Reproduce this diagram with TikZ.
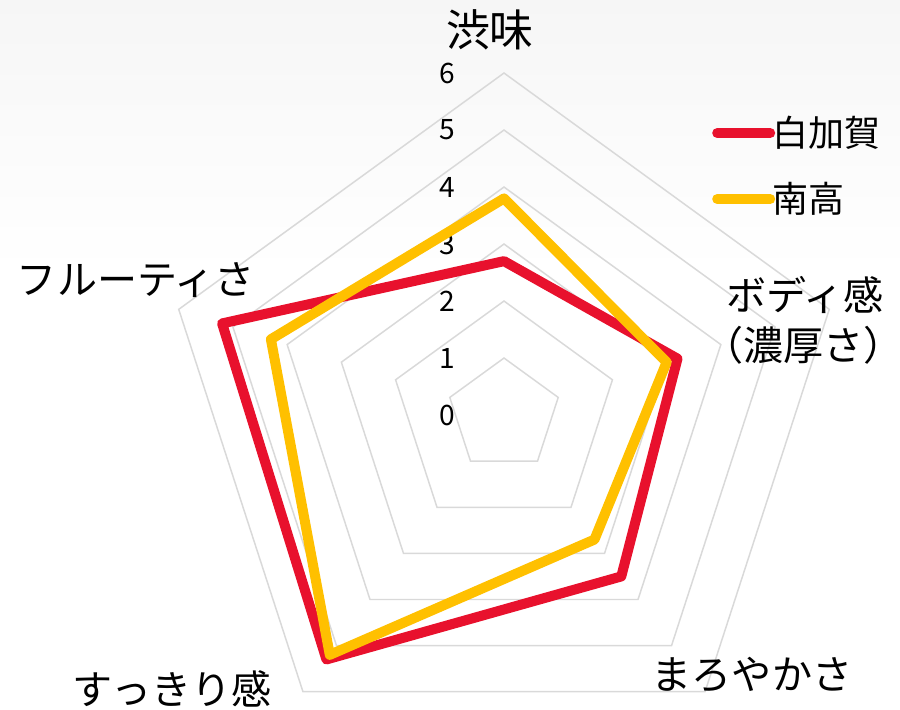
\documentclass[tikz,border=0pt]{standalone}
\usepackage{fontspec}
\setmainfont{Noto Sans CJK JP}
\usetikzlibrary{positioning}

\definecolor{kagared}{RGB}{232,17,45}
\definecolor{nankogold}{RGB}{255,192,0}
\definecolor{gridgray}{RGB}{217,217,217}

\tikzset{
    gridline/.style={draw=gridgray, line width=0.85pt},
    kagaline/.style={draw=kagared, line width=5.7pt, line join=round},
    nankoline/.style={draw=nankogold, line width=5.7pt, line join=round},
    axislabel/.style={inner sep=0pt, font=\fontsize{22.8}{28}\selectfont},
    levellabel/.style={inner sep=0pt, font=\fontsize{16}{18}\selectfont},
    legendlabel/.style={inner sep=0pt, font=\fontsize{20.5}{24}\selectfont}
}

\begin{document}
\begin{tikzpicture}[x=1.14cm, y=1.14cm]
    \useasboundingbox (-8.842, -5.158) rectangle (6.947, 7.281);
    \fill[top color=gray!7, bottom color=white] (-8.842, 2.5) rectangle (6.947, 7.281);

    \draw[gridline] (90:1) -- (18:1) -- (-54:1) -- (-126:1) -- (162:1) -- cycle;
    \draw[gridline] (90:2) -- (18:2) -- (-54:2) -- (-126:2) -- (162:2) -- cycle;
    \draw[gridline] (90:3) -- (18:3) -- (-54:3) -- (-126:3) -- (162:3) -- cycle;
    \draw[gridline] (90:4) -- (18:4) -- (-54:4) -- (-126:4) -- (162:4) -- cycle;
    \draw[gridline] (90:5) -- (18:5) -- (-54:5) -- (-126:5) -- (162:5) -- cycle;
    \draw[gridline] (90:6) -- (18:6) -- (-54:6) -- (-126:6) -- (162:6) -- cycle;

    \node[levellabel] (lv0) at (-1, 0) {0};
    \node[levellabel] (lv1) at (-1, 1) {1};
    \node[levellabel] (lv2) at (-1, 2) {2};
    \node[levellabel] (lv3) at (-1, 3) {3};
    \node[levellabel] (lv4) at (-1, 4) {4};
    \node[levellabel] (lv5) at (-1, 5) {5};
    \node[levellabel] (lv6) at (-1, 6) {6};

    \node[axislabel, font=\fontsize{25}{30}\selectfont] (shibumi) at (-0.246, 6.754) {渋味};
    \node[axislabel] (body) at (5.28, 2.105) {ボディ感};
    \node[axislabel, anchor=west] (bodysub) at (3.49, 1.228) {（濃厚さ）\kern-0.9em};
    \node[axislabel] (maroyaka) at (4.35, -4.56) {まろやかさ};
    \node[axislabel] (sukkiri) at (-5.825, -4.807) {すっきり感};
    \node[axislabel] (fruity) at (-6.456, 2.368) {フルーティさ};

    \coordinate (kaga1) at (90:2.7);
    \coordinate (kaga2) at (18:3.2);
    \coordinate (kaga3) at (-54:3.5);
    \coordinate (kaga4) at (-126:5.3);
    \coordinate (kaga5) at (162:5.2);
    \coordinate (nanko1) at (90:3.8);
    \coordinate (nanko2) at (18:3.0);
    \coordinate (nanko3) at (-54:2.7);
    \coordinate (nanko4) at (-126:5.2);
    \coordinate (nanko5) at (162:4.3);
    \draw[kagaline] (kaga1) -- (kaga2) -- (kaga3) -- (kaga4) -- (kaga5) -- cycle;
    \draw[nankoline] (nanko1) -- (nanko2) -- (nanko3) -- (nanko4) -- (nanko5) -- cycle;

    \coordinate (kagaL) at (3.74, 4.947);
    \coordinate (kagaR) at (4.67, 4.947);
    \coordinate (nankoL) at (3.74, 3.789);
    \coordinate (nankoR) at (4.67, 3.789);
    \draw[kagaline, line cap=round] (kagaL) -- (kagaR);
    \draw[nankoline, line cap=round] (nankoL) -- (nankoR);
    \node[legendlabel, right=0.03 of kagaR] (kagatext) {白加賀};
    \node[legendlabel, right=0.03 of nankoR] (nankotext) {南高};
\end{tikzpicture}
\end{document}
